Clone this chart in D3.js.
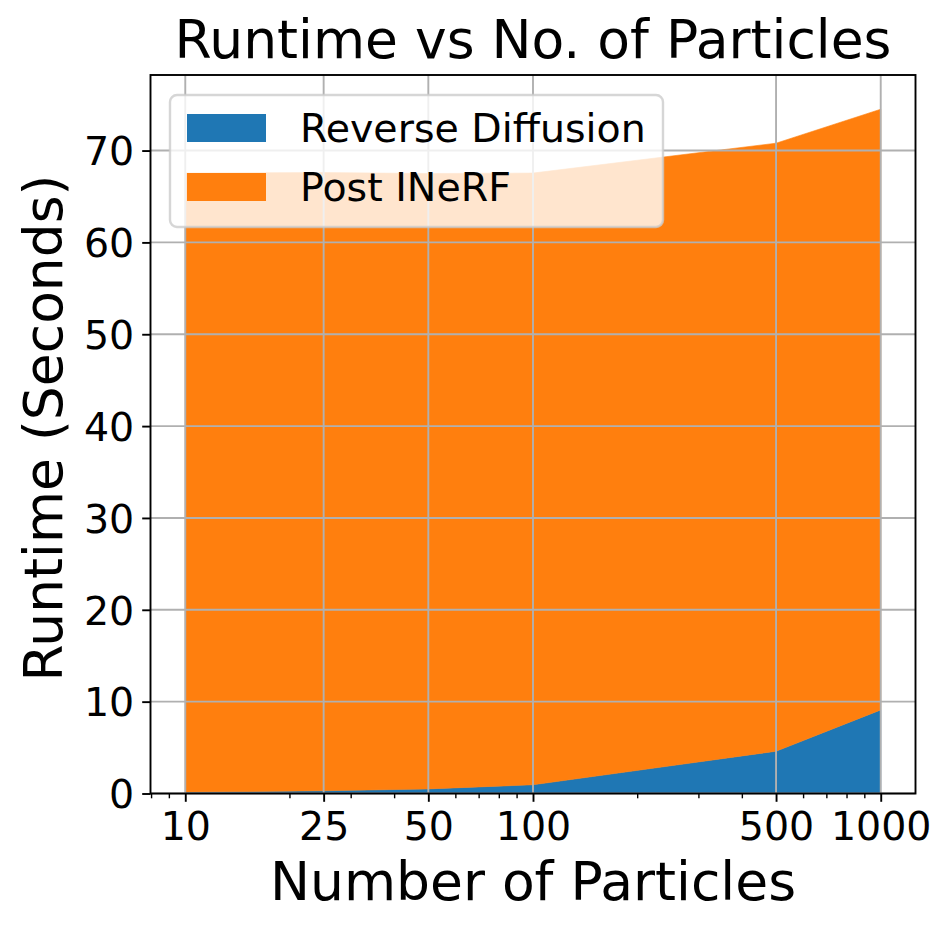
<!DOCTYPE html>
<html>
<head>
<meta charset="utf-8">
<script src="https://cdn.jsdelivr.net/npm/d3@7"></script>
<style>
  html, body { margin: 0; padding: 0; background: #fff; }
  svg { display: block; font-family: "DejaVu Sans", sans-serif; }
</style>
</head>
<body>
<svg id="chart" width="951" height="932"></svg>
<script>
// ---- data ----
const particles = [10, 25, 50, 100, 500, 1000];
const reverseDiffusion = [0.15, 0.3, 0.5, 0.95, 4.6, 9.1];
const postINeRF = [67.4, 67.3, 67.0, 66.6, 66.2, 65.4];
const seriesNames = ["Reverse Diffusion", "Post INeRF"];
const seriesColors = ["#1f77b4", "#ff7f0e"];
const xTickValues = [10, 25, 50, 100, 500, 1000];
const xTickLabels = ["10", "25", "50", "100", "500", "1000"];
const yTickValues = [0, 10, 20, 30, 40, 50, 60, 70];
const titleText = "Runtime vs No. of Particles";
const xLabelText = "Number of Particles";
const yLabelText = "Runtime (Seconds)";

// ---- layout ----
const svg = d3.select("#chart");
const L = 150.5, R = 915.5, T = 75, B = 793.5;

const rows = particles.map((p, i) => ({ x: p, rd: reverseDiffusion[i], pi: postINeRF[i] }));
const stack = d3.stack().keys(["rd", "pi"])(rows);
const maxTotal = d3.max(rows, d => d.rd + d.pi);

const lx0 = Math.log10(d3.min(particles)), lx1 = Math.log10(d3.max(particles));
const mx = (lx1 - lx0) * 0.05;
const x = d3.scaleLog().domain([Math.pow(10, lx0 - mx), Math.pow(10, lx1 + mx)]).range([L, R]);
const y = d3.scaleLinear().domain([0, maxTotal * 1.05]).range([B, T]);

// areas
const area = d3.area().x(d => x(d.data.x)).y0(d => y(d[0])).y1(d => y(d[1]));
svg.append("g").selectAll("path").data(stack).join("path")
  .attr("d", area)
  .attr("fill", (d, i) => seriesColors[i])
  .attr("stroke", (d, i) => seriesColors[i])
  .attr("stroke-width", 0.6);

// grid
const grid = svg.append("g").attr("stroke", "#b0b0b0").attr("stroke-width", 1.9);
grid.selectAll("line.vx").data(xTickValues).join("line")
  .attr("x1", d => x(d)).attr("x2", d => x(d)).attr("y1", T).attr("y2", B);
grid.selectAll("line.hy").data(yTickValues).join("line")
  .attr("x1", L).attr("x2", R).attr("y1", d => y(d)).attr("y2", d => y(d));

// x axis
const xAxis = d3.axisBottom(x).tickValues(xTickValues)
  .tickFormat((d, i) => xTickLabels[i]).tickSizeInner(8.3).tickSizeOuter(0).tickPadding(8);
const gx = svg.append("g").attr("transform", `translate(0,${B})`).call(xAxis);
gx.select(".domain").remove();
gx.selectAll(".tick line").attr("stroke", "#000").attr("stroke-width", 1.9);
gx.selectAll(".tick text").attr("font-size", 39.5).attr("fill", "#000")
  .attr("font-family", "DejaVu Sans").attr("dy", "0.76em");

// minor ticks
const [d0, d1] = x.domain();
const minor = [];
for (let e = Math.floor(Math.log10(d0)); e <= Math.ceil(Math.log10(d1)); e++) {
  for (let m = 2; m <= 9; m++) {
    const v = m * Math.pow(10, e);
    if (v >= d0 && v <= d1 && !xTickValues.includes(v)) minor.push(v);
  }
}
svg.append("g").selectAll("line").data(minor).join("line")
  .attr("x1", d => x(d)).attr("x2", d => x(d)).attr("y1", B).attr("y2", B + 4.8)
  .attr("stroke", "#000").attr("stroke-width", 1.4);

// y axis
const yAxis = d3.axisLeft(y).tickValues(yTickValues).tickSizeInner(8.3).tickSizeOuter(0).tickPadding(8);
const gy = svg.append("g").attr("transform", `translate(${L},0)`).call(yAxis);
gy.select(".domain").remove();
gy.selectAll(".tick line").attr("stroke", "#000").attr("stroke-width", 1.9);
gy.selectAll(".tick text").attr("font-size", 39.5).attr("fill", "#000")
  .attr("font-family", "DejaVu Sans").attr("dy", "0.36em");

// spines
svg.append("rect").attr("x", L).attr("y", T).attr("width", R - L).attr("height", B - T)
  .attr("fill", "none").attr("stroke", "#000").attr("stroke-width", 1.9);

// legend
const lg = svg.append("g");
lg.append("rect").attr("x", 170).attr("y", 95).attr("width", 493).attr("height", 132)
  .attr("rx", 7).attr("ry", 7)
  .attr("fill", "#fff").attr("fill-opacity", 0.8)
  .attr("stroke", "#cccccc").attr("stroke-opacity", 0.8).attr("stroke-width", 2.4);
seriesNames.forEach((name, i) => {
  const yy = 114 + i * 59;
  lg.append("rect").attr("x", 187).attr("y", yy).attr("width", 79).attr("height", 28)
    .attr("fill", seriesColors[i]);
  lg.append("text").attr("x", 300).attr("y", yy + 28).attr("font-size", 39.5)
    .attr("fill", "#000").text(name);
});

// title and labels
svg.append("text").attr("x", (L + R) / 2).attr("y", 58).attr("text-anchor", "middle")
  .attr("font-size", 53.5).attr("fill", "#000").text(titleText);
svg.append("text").attr("x", (L + R) / 2).attr("y", 900).attr("text-anchor", "middle")
  .attr("font-size", 53.5).attr("fill", "#000").text(xLabelText);
svg.append("text").attr("transform", "translate(62,428) rotate(-90)").attr("text-anchor", "middle")
  .attr("font-size", 53.5).attr("fill", "#000").text(yLabelText);
</script>
</body>
</html>
